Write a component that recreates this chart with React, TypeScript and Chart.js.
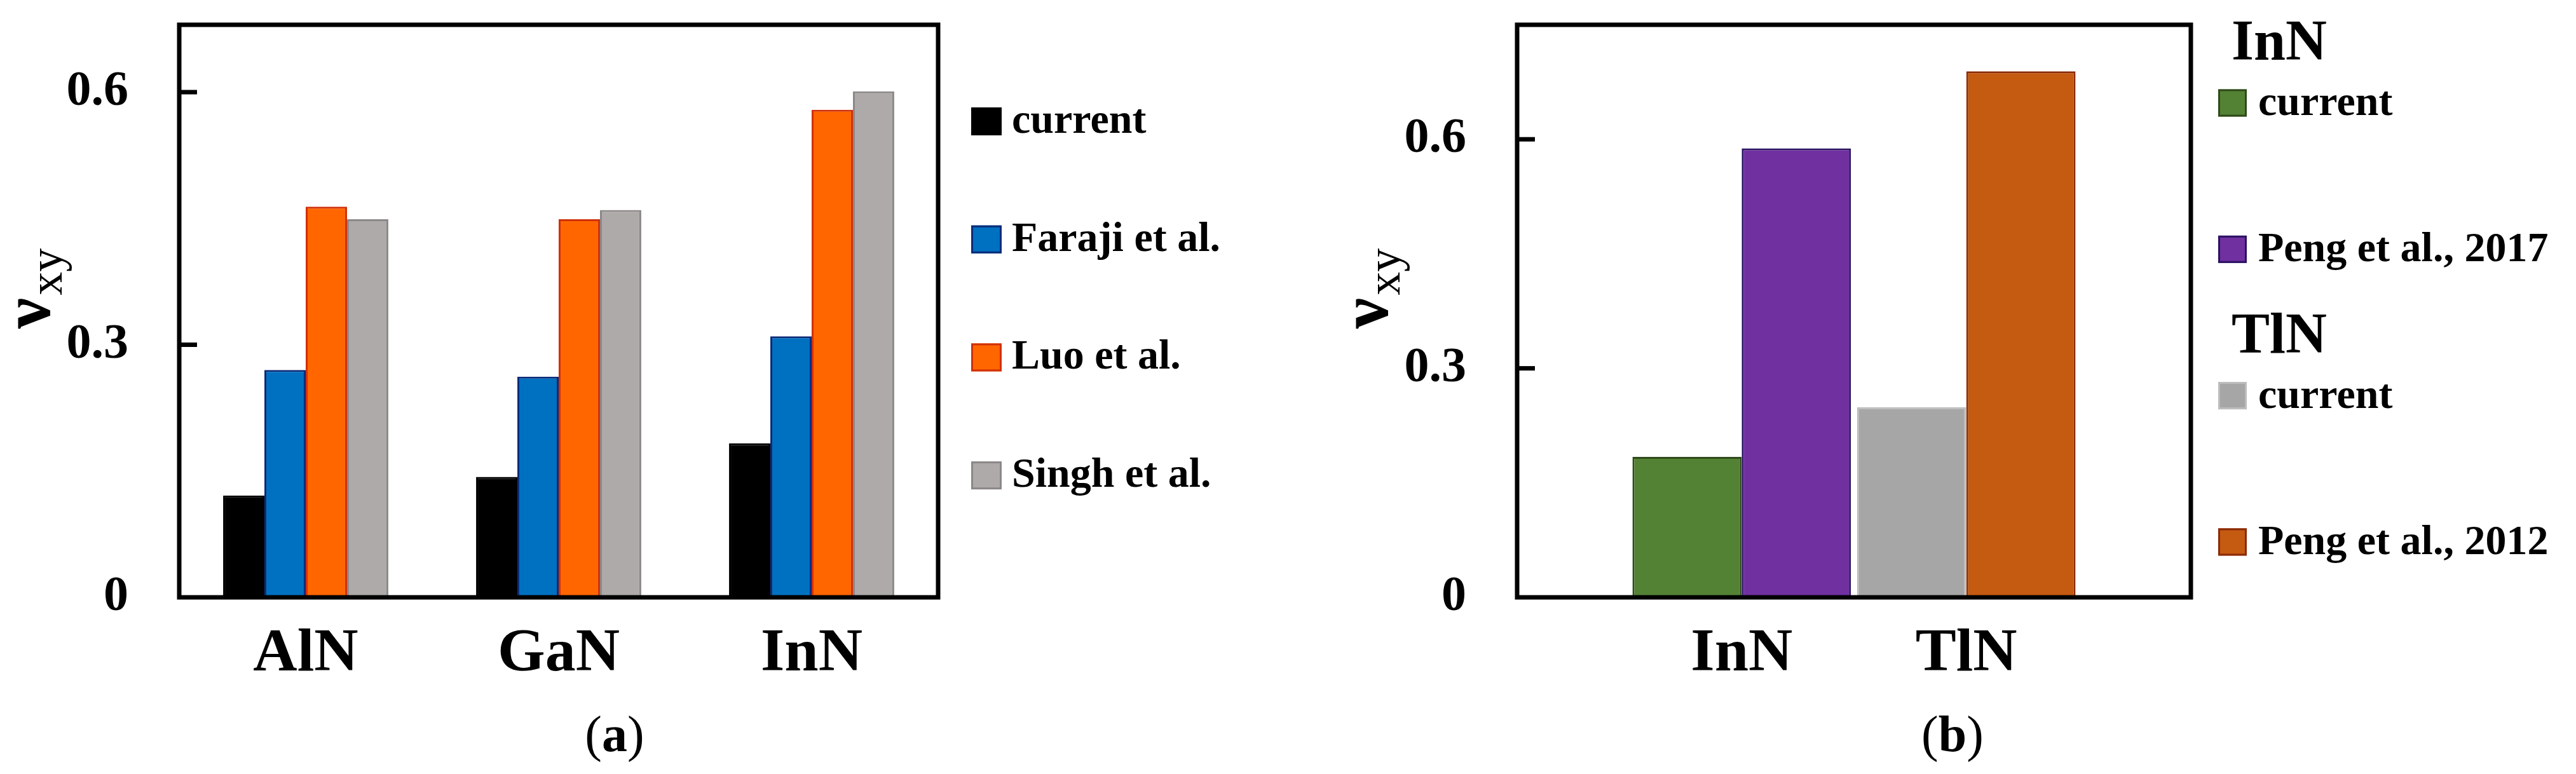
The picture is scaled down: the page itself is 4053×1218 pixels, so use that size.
import React, { useEffect, useRef } from 'react';
import { Chart, registerables } from 'chart.js';

Chart.register(...registerables);

const SERIF = '"Liberation Serif", "Times New Roman", serif';
const PAGE_W = 4053;
const PAGE_H = 1218;

// ---------- panel (a) data ----------
const categoriesA = ['AlN', 'GaN', 'InN'];
const seriesNamesA = ['current', 'Faraji et al.', 'Luo et al.', 'Singh et al.'];
const currentA = [0.121, 0.143, 0.183];
const farajiA = [0.27, 0.262, 0.31];
const luoA = [0.464, 0.449, 0.579];
const singhA = [0.449, 0.46, 0.601];
const yTicksA = [0, 0.3, 0.6];
const yMaxA = 0.68;

// ---------- panel (b) data ----------
const categoriesB = ['InN', 'TlN'];
const currentB = [0.184, 0.249];
const pengB = [0.588, 0.689];
const currentNameB = 'current';
const pengNamesB = ['Peng et al., 2017', 'Peng et al., 2012'];
const yTicksB = [0, 0.3, 0.6];
const yMaxB = 0.75;

// ---------- styles ----------
const fillsA = ['#000000', '#0070C0', '#FF6600', '#AEAAAA'];
const edgesA = ['#000000', '#0B2A78', '#D0300A', '#8C8888'];
const currentFillsB = ['#548235', '#A6A6A6'];
const currentEdgesB = ['#2E4A1A', '#BDBDBD'];
const pengFillsB = ['#7030A0', '#C55A11'];
const pengEdgesB = ['#2A1262', '#8A2A08'];

const PLOT_TOP = 39;
const PLOT_BOTTOM = 940;

function drawYTitle(ctx: any, a: any) {
  ctx.save();
  ctx.translate(a.left - 204, a.bottom - 423);
  ctx.rotate(-Math.PI / 2);
  ctx.fillStyle = '#000';
  ctx.textAlign = 'left';
  ctx.textBaseline = 'alphabetic';
  ctx.font = `bold 108px ${SERIF}`;
  ctx.fillText('ν', 0, 0);
  const w = ctx.measureText('ν').width;
  ctx.font = `74px ${SERIF}`;
  ctx.fillText('xy', w + 4, 19);
  ctx.restore();
}

function drawCaption(ctx: any, a: any, letter: string) {
  ctx.save();
  ctx.fillStyle = '#000';
  ctx.textBaseline = 'alphabetic';
  ctx.textAlign = 'left';
  const reg = `80px ${SERIF}`;
  const bold = `bold 80px ${SERIF}`;
  ctx.font = reg;
  const wp = ctx.measureText('(').width;
  const wq = ctx.measureText(')').width;
  ctx.font = bold;
  const wl = ctx.measureText(letter).width;
  const total = wp + wl + wq;
  let x = a.left + 685 - total / 2;
  const y = 1182;
  ctx.font = reg;
  ctx.fillText('(', x, y);
  x += wp;
  ctx.font = bold;
  ctx.fillText(letter, x, y);
  x += wl;
  ctx.font = reg;
  ctx.fillText(')', x, y);
  ctx.restore();
}

function drawFrameAndTicks(ctx: any, chart: any) {
  const a = chart.chartArea;
  ctx.save();
  ctx.strokeStyle = '#000';
  ctx.lineWidth = 7;
  ctx.lineJoin = 'miter';
  ctx.strokeRect(a.left, a.top, a.right - a.left, a.bottom - a.top);
  const ys = chart.scales.y;
  ys.ticks.forEach((t: any) => {
    const py = ys.getPixelForValue(t.value);
    if (Math.abs(py - a.bottom) < 3) return;
    ctx.beginPath();
    ctx.moveTo(a.left, py);
    ctx.lineTo(a.left + 28, py);
    ctx.stroke();
  });
  ctx.restore();
}

function legendSwatch(ctx: any, x: number, cy: number, w: number, h: number, fill: string, edge: string) {
  ctx.fillStyle = fill;
  ctx.fillRect(x, cy - h / 2, w, h);
  ctx.strokeStyle = edge;
  ctx.lineWidth = 3;
  ctx.strokeRect(x + 1.5, cy - h / 2 + 1.5, w - 3, h - 3);
}

const decorA = {
  id: 'decorA',
  afterDraw(chart: any) {
    const ctx = chart.ctx;
    const a = chart.chartArea;
    drawFrameAndTicks(ctx, chart);
    drawYTitle(ctx, a);
    ctx.save();
    chart.data.datasets.forEach((ds: any, i: number) => {
      const cy = a.top + 152 + i * 185.7;
      const x0 = a.right + 52;
      legendSwatch(ctx, x0, cy, 48, 44, ds.backgroundColor, ds.borderColor);
      ctx.fillStyle = '#000';
      ctx.font = `bold 66px ${SERIF}`;
      ctx.textAlign = 'left';
      ctx.textBaseline = 'alphabetic';
      ctx.fillText(ds.label, x0 + 64, cy + 18);
    });
    ctx.restore();
    drawCaption(ctx, a, 'a');
  },
};

const decorB = {
  id: 'decorB',
  afterDraw(chart: any) {
    const ctx = chart.ctx;
    const a = chart.chartArea;
    drawFrameAndTicks(ctx, chart);
    drawYTitle(ctx, a);
    ctx.save();
    chart.data.datasets.forEach((ds: any, i: number) => {
      const cy = a.top + 123 + i * 230.3;
      const x0 = a.right + 43;
      if (i % 2 === 0) {
        ctx.fillStyle = '#000';
        ctx.font = `bold 90px ${SERIF}`;
        ctx.textAlign = 'left';
        ctx.textBaseline = 'alphabetic';
        ctx.fillText(categoriesB[i / 2], a.right + 64, cy - 68);
      }
      legendSwatch(ctx, x0, cy, 45, 43, ds.backgroundColor, ds.borderColor);
      ctx.fillStyle = '#000';
      ctx.font = `bold 66px ${SERIF}`;
      ctx.textAlign = 'left';
      ctx.textBaseline = 'alphabetic';
      ctx.fillText(ds.label, x0 + 63, cy + 19);
    });
    ctx.restore();
    drawCaption(ctx, a, 'b');
  },
};

function makeOptions(cfg: any) {
  return {
    responsive: false,
    animation: false,
    devicePixelRatio: 1,
    layout: {
      padding: {
        left: 0,
        top: PLOT_TOP,
        right: cfg.canvasWidth - (cfg.plotRight - cfg.canvasLeft),
        bottom: 0,
      },
    },
    plugins: {
      legend: { display: false },
      tooltip: { enabled: false },
      title: { display: false },
    },
    skipNull: cfg.skipNull,
    datasets: {
      bar: {
        categoryPercentage: cfg.categoryPercentage,
        barPercentage: 1,
        borderWidth: 3,
      },
    },
    scales: {
      x: {
        type: 'category',
        offset: cfg.offset,
        grid: { display: false },
        border: { display: false },
        ticks: {
          color: '#000',
          font: { family: SERIF, size: 96, weight: 'bold' },
          padding: 25,
          autoSkip: false,
          maxRotation: 0,
          minRotation: 0,
        },
        afterFit: (s: any) => {
          s.height = PAGE_H - PLOT_BOTTOM;
          s.paddingLeft = 0;
          s.paddingRight = 0;
        },
      },
      y: {
        type: 'linear',
        min: 0,
        max: cfg.yMax,
        grid: { display: false, drawTicks: false },
        border: { display: false },
        afterBuildTicks: (s: any) => {
          s.ticks = cfg.yTicks.map((v: number) => ({ value: v }));
        },
        ticks: {
          color: '#000',
          font: { family: SERIF, size: 78, weight: 'bold' },
          padding: 80,
          callback: (v: any) => String(v),
        },
        afterFit: (s: any) => {
          s.width = cfg.plotLeft - cfg.canvasLeft;
          s.paddingTop = 0;
          s.paddingBottom = 0;
        },
      },
    },
  };
}

const CFG_A = { canvasLeft: 0, canvasWidth: 2050, plotLeft: 282, plotRight: 1476, yMax: yMaxA, yTicks: yTicksA, offset: true, skipNull: false, categoryPercentage: 0.653 };
const CFG_B = { canvasLeft: 2050, canvasWidth: 2003, plotLeft: 2387, plotRight: 3447, yMax: yMaxB, yTicks: yTicksB, offset: false, skipNull: true, categoryPercentage: 0.973 };

export default function App() {
  const refA = useRef<HTMLCanvasElement | null>(null);
  const refB = useRef<HTMLCanvasElement | null>(null);

  useEffect(() => {
    const seriesA = [currentA, farajiA, luoA, singhA];
    const chartA = new Chart(refA.current as HTMLCanvasElement, {
      type: 'bar',
      data: {
        labels: categoriesA,
        datasets: seriesA.map((vals, i) => ({
          label: seriesNamesA[i],
          data: vals,
          backgroundColor: fillsA[i],
          borderColor: edgesA[i],
        })),
      },
      options: makeOptions(CFG_A) as any,
      plugins: [decorA],
    });

    // axis slots: empty slot at both ends so the two materials sit at 1/3 and 2/3 of the axis
    const slotsB = ['', ...categoriesB, ''];
    const datasetsB: any[] = [];
    categoriesB.forEach((_m, i) => {
      datasetsB.push({
        label: currentNameB,
        data: slotsB.map((_s, j) => (j === i + 1 ? currentB[i] : null)),
        backgroundColor: currentFillsB[i],
        borderColor: currentEdgesB[i],
      });
      datasetsB.push({
        label: pengNamesB[i],
        data: slotsB.map((_s, j) => (j === i + 1 ? pengB[i] : null)),
        backgroundColor: pengFillsB[i],
        borderColor: pengEdgesB[i],
      });
    });
    const chartB = new Chart(refB.current as HTMLCanvasElement, {
      type: 'bar',
      data: { labels: slotsB, datasets: datasetsB },
      options: makeOptions(CFG_B) as any,
      plugins: [decorB],
    });

    return () => {
      chartA.destroy();
      chartB.destroy();
    };
  }, []);

  return (
    <div style={{ position: 'absolute', left: 0, top: 0, width: PAGE_W, height: PAGE_H, background: '#ffffff', overflow: 'hidden' }}>
      <canvas
        ref={refA}
        width={CFG_A.canvasWidth}
        height={PAGE_H}
        style={{ position: 'absolute', left: CFG_A.canvasLeft, top: 0, width: CFG_A.canvasWidth, height: PAGE_H }}
      />
      <canvas
        ref={refB}
        width={CFG_B.canvasWidth}
        height={PAGE_H}
        style={{ position: 'absolute', left: CFG_B.canvasLeft, top: 0, width: CFG_B.canvasWidth, height: PAGE_H }}
      />
    </div>
  );
}
